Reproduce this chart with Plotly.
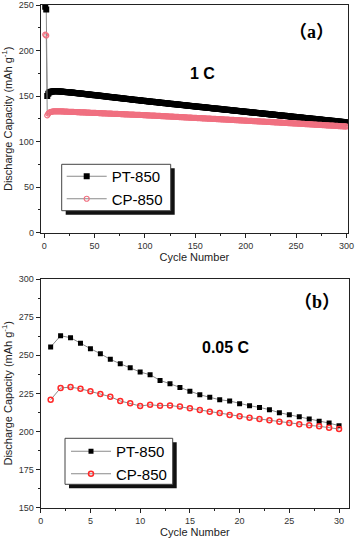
import plotly.graph_objects as go

# Painel (a): 1 C, ciclos 1-300
ciclos_a = list(range(1, 301))
pt_a = [
    248.0, 245.0, 150.2, 152.6, 153.8, 154.4, 154.8, 155.0, 155.2, 155.3,
    155.3, 155.3, 155.2, 155.2, 155.1, 155.0, 154.9, 154.8, 154.7, 154.6,
    154.5, 154.4, 154.3, 154.2, 154.1, 154.0, 153.9, 153.8, 153.6, 153.5,
    153.4, 153.3, 153.2, 153.0, 152.9, 152.8, 152.7, 152.5, 152.4, 152.3,
    152.2, 152.0, 151.9, 151.8, 151.7, 151.5, 151.4, 151.3, 151.2, 151.0,
    150.9, 150.8, 150.6, 150.5, 150.4, 150.3, 150.1, 150.0, 149.9, 149.7,
    149.6, 149.5, 149.4, 149.2, 149.1, 149.0, 148.8, 148.7, 148.6, 148.5,
    148.3, 148.2, 148.1, 147.9, 147.8, 147.7, 147.6, 147.4, 147.3, 147.2,
    147.0, 146.9, 146.8, 146.7, 146.5, 146.4, 146.3, 146.1, 146.0, 145.9,
    145.8, 145.6, 145.5, 145.4, 145.3, 145.1, 145.0, 144.9, 144.8, 144.6,
    144.5, 144.4, 144.3, 144.1, 144.0, 143.9, 143.8, 143.7, 143.5, 143.4,
    143.3, 143.2, 143.1, 142.9, 142.8, 142.7, 142.6, 142.5, 142.3, 142.2,
    142.1, 142.0, 141.9, 141.7, 141.6, 141.5, 141.4, 141.3, 141.1, 141.0,
    140.9, 140.8, 140.7, 140.5, 140.4, 140.3, 140.2, 140.1, 139.9, 139.8,
    139.7, 139.6, 139.5, 139.4, 139.2, 139.1, 139.0, 138.9, 138.8, 138.6,
    138.5, 138.4, 138.3, 138.2, 138.1, 137.9, 137.8, 137.7, 137.6, 137.5,
    137.4, 137.2, 137.1, 137.0, 136.9, 136.8, 136.7, 136.5, 136.4, 136.3,
    136.2, 136.1, 136.0, 135.8, 135.7, 135.6, 135.5, 135.4, 135.3, 135.1,
    135.0, 134.9, 134.8, 134.7, 134.6, 134.4, 134.3, 134.2, 134.1, 134.0,
    133.9, 133.7, 133.6, 133.5, 133.4, 133.3, 133.2, 133.0, 132.9, 132.8,
    132.7, 132.6, 132.5, 132.3, 132.2, 132.1, 132.0, 131.9, 131.8, 131.6,
    131.5, 131.4, 131.3, 131.2, 131.1, 130.9, 130.8, 130.7, 130.6, 130.5,
    130.4, 130.2, 130.1, 130.0, 129.9, 129.8, 129.7, 129.5, 129.4, 129.3,
    129.2, 129.1, 129.0, 128.8, 128.7, 128.6, 128.5, 128.4, 128.3, 128.1,
    128.0, 127.9, 127.8, 127.7, 127.6, 127.4, 127.3, 127.2, 127.1, 127.0,
    126.9, 126.7, 126.6, 126.5, 126.4, 126.3, 126.2, 126.0, 125.9, 125.8,
    125.7, 125.6, 125.5, 125.3, 125.2, 125.1, 125.0, 124.9, 124.8, 124.6,
    124.5, 124.4, 124.3, 124.2, 124.1, 123.9, 123.8, 123.7, 123.6, 123.5,
    123.4, 123.2, 123.1, 123.0, 122.9, 122.8, 122.7, 122.5, 122.4, 122.3,
    122.2, 122.1, 122.0, 121.8, 121.7, 121.6, 121.5, 121.4, 121.3, 121.1,
]
cp_a = [
    217.5, 216.5, 128.8, 130.8, 131.8, 132.4, 132.8, 133.0, 133.2, 133.3,
    133.3, 133.3, 133.3, 133.3, 133.2, 133.2, 133.2, 133.1, 133.1, 133.0,
    133.0, 132.9, 132.9, 132.8, 132.8, 132.7, 132.7, 132.6, 132.6, 132.5,
    132.5, 132.4, 132.4, 132.3, 132.3, 132.2, 132.2, 132.1, 132.1, 132.0,
    132.0, 131.9, 131.9, 131.8, 131.8, 131.7, 131.7, 131.6, 131.6, 131.5,
    131.5, 131.4, 131.4, 131.3, 131.3, 131.2, 131.2, 131.1, 131.1, 131.0,
    131.0, 130.9, 130.9, 130.8, 130.8, 130.7, 130.7, 130.6, 130.6, 130.5,
    130.5, 130.4, 130.4, 130.3, 130.3, 130.2, 130.2, 130.1, 130.1, 130.0,
    130.0, 129.9, 129.9, 129.8, 129.8, 129.7, 129.7, 129.6, 129.6, 129.5,
    129.5, 129.4, 129.4, 129.3, 129.3, 129.2, 129.2, 129.1, 129.1, 129.0,
    129.0, 128.9, 128.9, 128.8, 128.7, 128.7, 128.6, 128.6, 128.5, 128.5,
    128.4, 128.3, 128.3, 128.2, 128.2, 128.1, 128.0, 128.0, 127.9, 127.9,
    127.8, 127.7, 127.7, 127.6, 127.6, 127.5, 127.4, 127.4, 127.3, 127.3,
    127.2, 127.1, 127.1, 127.0, 127.0, 126.9, 126.8, 126.8, 126.7, 126.7,
    126.6, 126.5, 126.5, 126.4, 126.4, 126.3, 126.2, 126.2, 126.1, 126.1,
    126.0, 125.9, 125.9, 125.8, 125.8, 125.7, 125.6, 125.6, 125.5, 125.5,
    125.4, 125.3, 125.3, 125.2, 125.2, 125.1, 125.0, 125.0, 124.9, 124.9,
    124.8, 124.7, 124.7, 124.6, 124.6, 124.5, 124.4, 124.4, 124.3, 124.3,
    124.2, 124.1, 124.1, 124.0, 124.0, 123.9, 123.8, 123.8, 123.7, 123.7,
    123.6, 123.5, 123.5, 123.4, 123.4, 123.3, 123.2, 123.2, 123.1, 123.1,
    123.0, 122.9, 122.9, 122.8, 122.7, 122.7, 122.6, 122.6, 122.5, 122.4,
    122.4, 122.3, 122.2, 122.2, 122.1, 122.1, 122.0, 121.9, 121.9, 121.8,
    121.7, 121.7, 121.6, 121.6, 121.5, 121.4, 121.4, 121.3, 121.2, 121.2,
    121.1, 121.1, 121.0, 120.9, 120.9, 120.8, 120.7, 120.7, 120.6, 120.6,
    120.5, 120.4, 120.4, 120.3, 120.2, 120.2, 120.1, 120.1, 120.0, 119.9,
    119.9, 119.8, 119.7, 119.7, 119.6, 119.5, 119.5, 119.4, 119.3, 119.3,
    119.2, 119.1, 119.1, 119.0, 118.9, 118.9, 118.8, 118.7, 118.7, 118.6,
    118.5, 118.5, 118.4, 118.3, 118.3, 118.2, 118.1, 118.1, 118.0, 117.9,
    117.9, 117.8, 117.7, 117.7, 117.6, 117.5, 117.5, 117.4, 117.3, 117.3,
    117.2, 117.1, 117.1, 117.0, 116.9, 116.9, 116.8, 116.7, 116.7, 116.6,
]

# Painel (b): 0.05 C, ciclos 1-30
ciclos_b = list(range(1, 31))
pt_b = [255.4, 262.8, 261.5, 257.8, 254.3, 251.0, 247.3, 244.4, 241.8, 239.0,
        237.2, 233.5, 231.3, 228.8, 226.4, 224.1, 222.4, 220.8, 220.0, 218.2,
        216.9, 215.8, 214.3, 212.3, 211.0, 209.7, 208.2, 206.7, 205.5, 203.8]
cp_b = [220.8, 228.5, 229.1, 228.0, 226.3, 224.6, 222.8, 220.0, 218.5, 216.7,
        217.5, 216.9, 217.1, 216.3, 215.2, 214.1, 213.0, 212.1, 210.8, 209.9,
        209.0, 208.2, 207.3, 206.4, 205.5, 204.7, 204.0, 203.4, 202.5, 201.6]

W, H = 355, 540
FONTE = "Liberation Sans, Arial, sans-serif"

def px_x(p):
    return p / W

def px_y(p):
    return 1 - p / H

fig = go.Figure()

# Painel (a)
fig.add_trace(go.Scatter(x=ciclos_a, y=pt_a, name="PT-850", mode="lines+markers",
                         line=dict(color="#8a8a8a", width=1),
                         marker=dict(symbol="square", size=6, color="black"),
                         xaxis="x", yaxis="y", legend="legend"))
fig.add_trace(go.Scatter(x=ciclos_a, y=cp_a, name="CP-850", mode="lines+markers",
                         line=dict(color="#8a8a8a", width=1),
                         marker=dict(symbol="circle-open", size=5, color="#f07080",
                                     line=dict(width=1.2)),
                         xaxis="x", yaxis="y", legend="legend"))

# Painel (b)
fig.add_trace(go.Scatter(x=ciclos_b, y=pt_b, name="PT-850", mode="lines+markers",
                         line=dict(color="#8a8a8a", width=1),
                         marker=dict(symbol="square", size=5, color="black"),
                         xaxis="x2", yaxis="y2", legend="legend2"))
fig.add_trace(go.Scatter(x=ciclos_b, y=cp_b, name="CP-850", mode="lines+markers",
                         line=dict(color="#8a8a8a", width=1),
                         marker=dict(symbol="circle-open", size=5, color="#ff2a2a",
                                     line=dict(width=1.5)),
                         xaxis="x2", yaxis="y2", legend="legend2"))

eixo = dict(showline=True, linecolor="#222", linewidth=1, mirror=True,
            ticks="outside", ticklen=4, tickcolor="#222", showgrid=False,
            zeroline=False, automargin=False,
            tickfont=dict(size=9, color="#333", family=FONTE))
titulo_y = "Discharge Capacity (mAh g<sup>-1</sup>)"

leg = dict(xanchor="left", yanchor="top", bgcolor="rgba(0,0,0,0)", borderwidth=0,
           font=dict(size=15, family=FONTE, color="black"),
           itemwidth=40, tracegroupgap=0)

fig.update_layout(
    width=W, height=H,
    margin=dict(l=0, r=0, t=0, b=0, autoexpand=False),
    paper_bgcolor="white", plot_bgcolor="white",
    font=dict(family=FONTE, color="#222"),
    xaxis=dict(eixo, domain=[px_x(40.7), px_x(348)], range=[-3.5, 301.5],
               tick0=0, dtick=50, anchor="y",
               minor=dict(ticks="outside", ticklen=2, dtick=25, tick0=0, tickcolor="#222"),
               title=dict(text="Cycle Number", font=dict(size=11), standoff=3)),
    yaxis=dict(eixo, domain=[px_y(232.7), px_y(5)], range=[0, 250],
               tick0=0, dtick=50, anchor="x",
               minor=dict(ticks="outside", ticklen=2, dtick=25, tick0=0, tickcolor="#222"),
               title=dict(text=titulo_y, font=dict(size=11), standoff=8)),
    xaxis2=dict(eixo, domain=[px_x(40.7), px_x(349)], range=[0, 31],
                tick0=0, dtick=5, anchor="y2",
                minor=dict(ticks="outside", ticklen=2, dtick=2.5, tick0=0, tickcolor="#222"),
                title=dict(text="Cycle Number", font=dict(size=11), standoff=3)),
    yaxis2=dict(eixo, domain=[px_y(507.7), px_y(279)], range=[150, 300],
                tick0=150, dtick=25, anchor="x2",
                minor=dict(ticks="outside", ticklen=2, dtick=12.5, tick0=150, tickcolor="#222"),
                title=dict(text=titulo_y, font=dict(size=11), standoff=8)),
    legend=dict(leg, x=px_x(61.7), y=px_y(160)),
    legend2=dict(leg, x=px_x(66), y=px_y(435)),
    showlegend=True,
)

# Caixa e sombra das legendas
for (x0, y0, x1, y1) in [(61.7, 164.3, 170.7, 210.7), (65, 438.3, 172.7, 484.3)]:
    fig.add_shape(type="rect", xref="paper", yref="paper",
                  x0=px_x(x0 + 4), x1=px_x(x1 + 4), y0=px_y(y1 + 4), y1=px_y(y0 + 4),
                  fillcolor="#111", line=dict(width=0), layer="above")
    fig.add_shape(type="rect", xref="paper", yref="paper",
                  x0=px_x(x0), x1=px_x(x1), y0=px_y(y1), y1=px_y(y0),
                  fillcolor="white", line=dict(width=1, color="#444"), layer="above")

# Rótulos dos painéis
serif = "Liberation Serif, Times New Roman, Noto Sans CJK SC, serif"
fig.add_annotation(x=265, y=220, xref="x", yref="y", text="<b>（a）</b>",
                   showarrow=False, font=dict(size=18, family=serif, color="black"))
fig.add_annotation(x=157, y=175, xref="x", yref="y", text="<b>1 C</b>",
                   showarrow=False, font=dict(size=16, family=FONTE, color="black"))
fig.add_annotation(x=27.8, y=285, xref="x2", yref="y2", text="<b>（b）</b>",
                   showarrow=False, font=dict(size=18, family=serif, color="black"))
fig.add_annotation(x=18.6, y=255.4, xref="x2", yref="y2", text="<b>0.05 C</b>",
                   showarrow=False, font=dict(size=16, family=FONTE, color="black"))

fig.write_html("out.html", config={"displayModeBar": False},
               post_script="document.body.style.margin='0';")
